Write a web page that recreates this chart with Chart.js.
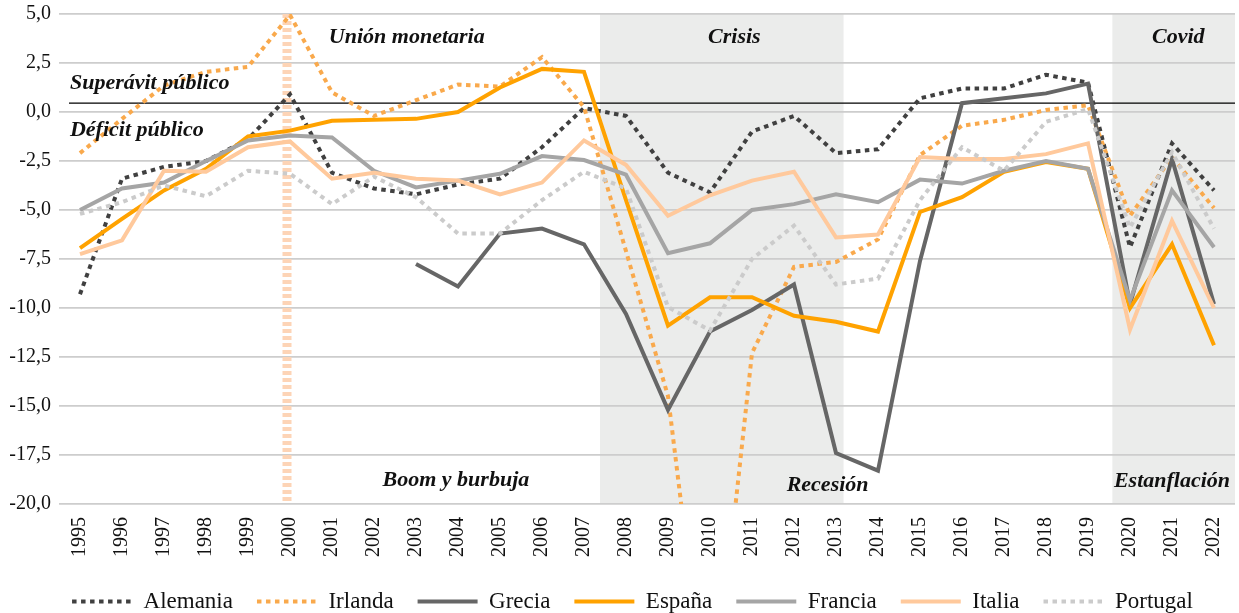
<!DOCTYPE html>
<html>
<head>
<meta charset="utf-8">
<script src="https://cdn.jsdelivr.net/npm/chart.js@4/dist/chart.umd.min.js"></script>
<style>
  html, body { margin: 0; padding: 0; background: #fff; }
  #wrap { width: 1239px; height: 613px; position: relative; }
</style>
</head>
<body>
<div id="wrap"><canvas id="myChart"></canvas></div>
<script>
const years = ['1995','1996','1997','1998','1999','2000','2001','2002','2003','2004','2005','2006','2007','2008',
               '2009','2010','2011','2012','2013','2014','2015','2016','2017','2018','2019','2020','2021','2022'];

const alemania = [-9.3,-3.4,-2.8,-2.5,-1.4,0.9,-3.1,-3.9,-4.2,-3.7,-3.4,-1.8,0.2,-0.2,-3.1,-4.1,-1.0,-0.2,-2.1,-1.9,0.7,1.2,1.2,1.9,1.5,-6.9,-1.6,-4.0];
const irlanda  = [-2.1,-0.35,1.35,2.05,2.3,4.95,1.0,-0.2,0.6,1.4,1.3,2.8,0.25,-7.1,-14.5,-32.0,-12.3,-7.9,-7.65,-6.5,-2.2,-0.7,-0.4,0.1,0.35,-5.3,-2.3,-4.9];
const grecia   = [null,null,null,null,null,null,null,null,-7.75,-8.9,-6.2,-5.95,-6.75,-10.3,-15.2,-11.2,-10.1,-8.8,-17.4,-18.3,-7.6,0.45,0.7,0.95,1.45,-9.8,-2.4,-9.8];
const espana   = [-6.95,-5.45,-4.0,-2.9,-1.25,-0.95,-0.45,-0.4,-0.35,0.0,1.25,2.2,2.05,-4.5,-10.9,-9.45,-9.45,-10.4,-10.7,-11.2,-5.1,-4.35,-3.05,-2.55,-2.9,-10.0,-6.75,-11.9];
const francia  = [-5.0,-3.9,-3.6,-2.5,-1.45,-1.2,-1.3,-3.0,-3.85,-3.5,-3.15,-2.25,-2.45,-3.2,-7.2,-6.7,-5.0,-4.7,-4.2,-4.6,-3.45,-3.65,-3.0,-2.5,-2.9,-9.6,-4.0,-6.9];
const italia   = [-7.25,-6.55,-3.0,-3.05,-1.8,-1.5,-3.4,-3.1,-3.4,-3.5,-4.2,-3.6,-1.45,-2.7,-5.3,-4.25,-3.5,-3.05,-6.4,-6.25,-2.3,-2.4,-2.4,-2.15,-1.6,-11.1,-5.55,-10.0];
const portugal = [-5.2,-4.6,-3.75,-4.3,-3.0,-3.15,-4.7,-3.3,-4.35,-6.2,-6.2,-4.5,-3.05,-3.9,-9.95,-11.15,-7.5,-5.8,-8.8,-8.5,-4.5,-1.8,-3.0,-0.5,0.15,-5.9,-2.05,-5.95];

const yTicks = [5, 2.5, 0, -2.5, -5, -7.5, -10, -12.5, -15, -17.5, -20];

// periodos sombreados (en indices de categoria)
const shades = [
  { from: 12.38, to: 18.18 },
  { from: 24.58, to: 27.5 }
];
const refLine = 0.45;     // linea superavit / deficit
const euroYear = '2000';  // linea vertical union monetaria

const notes = [
  { text: 'Unión monetaria', x: 7.78, y: 3.8,   align: 'center' },
  { text: 'Crisis',          x: 15.58, y: 3.8,  align: 'center' },
  { text: 'Covid',           x: 26.15, y: 3.8,  align: 'center' },
  { text: 'Superávit público', x: -0.24, y: 1.45, align: 'left' },
  { text: 'Déficit público',   x: -0.24, y: -0.95, align: 'left' },
  { text: 'Boom y burbuja',  x: 8.95, y: -18.8, align: 'center' },
  { text: 'Recesión',        x: 17.8, y: -19.05, align: 'center' },
  { text: 'Estanflación',    x: 26.0, y: -18.85, align: 'center' }
];

const serif = "'Liberation Serif', 'DejaVu Serif', serif";

const bgPlugin = {
  id: 'bg',
  afterLayout(chart) {
    // leyenda algo desplazada a la derecha, como en el original
    if (chart.legend) {
      chart.legend.left += 15;
      chart.legend.right += 15;
    }
  },
  beforeDraw(chart) {
    const ctx = chart.ctx, x = chart.scales.x, a = chart.chartArea;
    ctx.save();
    ctx.fillStyle = '#ebeceb';
    shades.forEach(s => {
      const x1 = Math.max(a.left, x.getPixelForValue(s.from));
      const x2 = Math.min(a.right, x.getPixelForValue(s.to));
      ctx.fillRect(x1, a.top, x2 - x1, a.bottom - a.top);
    });
    ctx.restore();
  },
  beforeDatasetsDraw(chart) {
    const ctx = chart.ctx, x = chart.scales.x, y = chart.scales.y, a = chart.chartArea;
    ctx.save();
    // linea vertical 2000
    const xe = x.getPixelForValue(years.indexOf(euroYear)) - 3;
    ctx.strokeStyle = '#fdd4b6';
    ctx.lineWidth = 9;
    ctx.setLineDash([4, 3]);
    ctx.beginPath();
    ctx.moveTo(xe, a.top);
    ctx.lineTo(xe, a.bottom);
    ctx.stroke();
    // linea de referencia
    ctx.setLineDash([]);
    ctx.strokeStyle = '#000';
    ctx.lineWidth = 1.3;
    const yr = y.getPixelForValue(refLine);
    ctx.beginPath();
    ctx.moveTo(a.left + 10, yr);
    ctx.lineTo(a.right, yr);
    ctx.stroke();
    ctx.restore();
  },
  afterDatasetsDraw(chart) {
    const ctx = chart.ctx, x = chart.scales.x, y = chart.scales.y;
    ctx.save();
    ctx.fillStyle = '#111';
    ctx.font = 'italic bold 22px ' + serif;
    ctx.textBaseline = 'middle';
    notes.forEach(n => {
      ctx.textAlign = n.align;
      ctx.fillText(n.text, x.getPixelForValue(n.x), y.getPixelForValue(n.y));
    });
    ctx.restore();
  }
};

function serie(label, data, color, dotted) {
  return {
    label: label,
    data: data,
    borderColor: color,
    backgroundColor: color,
    borderWidth: 4,
    borderDash: dotted ? [4.5, 4.5] : [],
    borderCapStyle: 'butt',
    pointRadius: 0,
    pointHoverRadius: 0,
    tension: 0,
    spanGaps: false
  };
}

const datasets = [
  serie('Alemania', alemania, '#404040', true),
  serie('Irlanda', irlanda, '#f9a94c', true),
  serie('Grecia', grecia, '#666666', false),
  serie('España', espana, '#ffa200', false),
  serie('Francia', francia, '#a5a5a5', false),
  serie('Italia', italia, '#ffc99c', false),
  serie('Portugal', portugal, '#cbcbcb', true)
];
datasets.forEach((d, i) => d.order = datasets.length - i);

const config = {
  type: 'line',
  data: { labels: years, datasets: datasets },
  options: {
    responsive: true,
    maintainAspectRatio: false,
    animation: false,
    layout: { padding: { top: 8, right: 4, left: 0, bottom: -10 } },
    plugins: {
      legend: {
        position: 'bottom',
        labels: {
          usePointStyle: true,
          pointStyle: 'line',
          pointStyleWidth: 60,
          boxHeight: 4,
          padding: 24,
          color: '#111',
          font: { family: serif, size: 23 },
          generateLabels(chart) {
            return chart.data.datasets.map((d, i) => ({
              text: d.label,
              datasetIndex: i,
              strokeStyle: d.borderColor,
              fillStyle: d.borderColor,
              lineWidth: 4,
              lineDash: d.borderDash,
              lineCap: 'butt',
              pointStyle: 'line',
              fontColor: '#111',
              hidden: false
            }));
          }
        }
      },
      tooltip: { enabled: false }
    },
    scales: {
      x: {
        offset: true,
        grid: { display: false },
        border: { display: false },
        ticks: {
          minRotation: 90, maxRotation: 90, autoSkip: false,
          color: '#111', padding: 5,
          font: { family: serif, size: 20 }
        },
        afterFit(scale) {
          scale.height = 62;
          scale.paddingLeft = 0;
          scale.paddingRight = 0;
        }
      },
      y: {
        min: -20, max: 5,
        afterBuildTicks(scale) { scale.ticks = yTicks.map(v => ({ value: v })); },
        grid: { color: '#cdcdcd', lineWidth: 1.8, drawTicks: false },
        border: { display: false },
        ticks: {
          color: '#111', padding: 8,
          font: { family: serif, size: 20 },
          callback: v => v.toFixed(1).replace('.', ',')
        },
        afterFit(scale) {
          scale.width = 59;
          scale.paddingTop = 14;
          scale.paddingBottom = 0;
        }
      }
    }
  },
  plugins: [bgPlugin]
};

const myChart = new Chart(document.getElementById('myChart'), config);
</script>
</body>
</html>
